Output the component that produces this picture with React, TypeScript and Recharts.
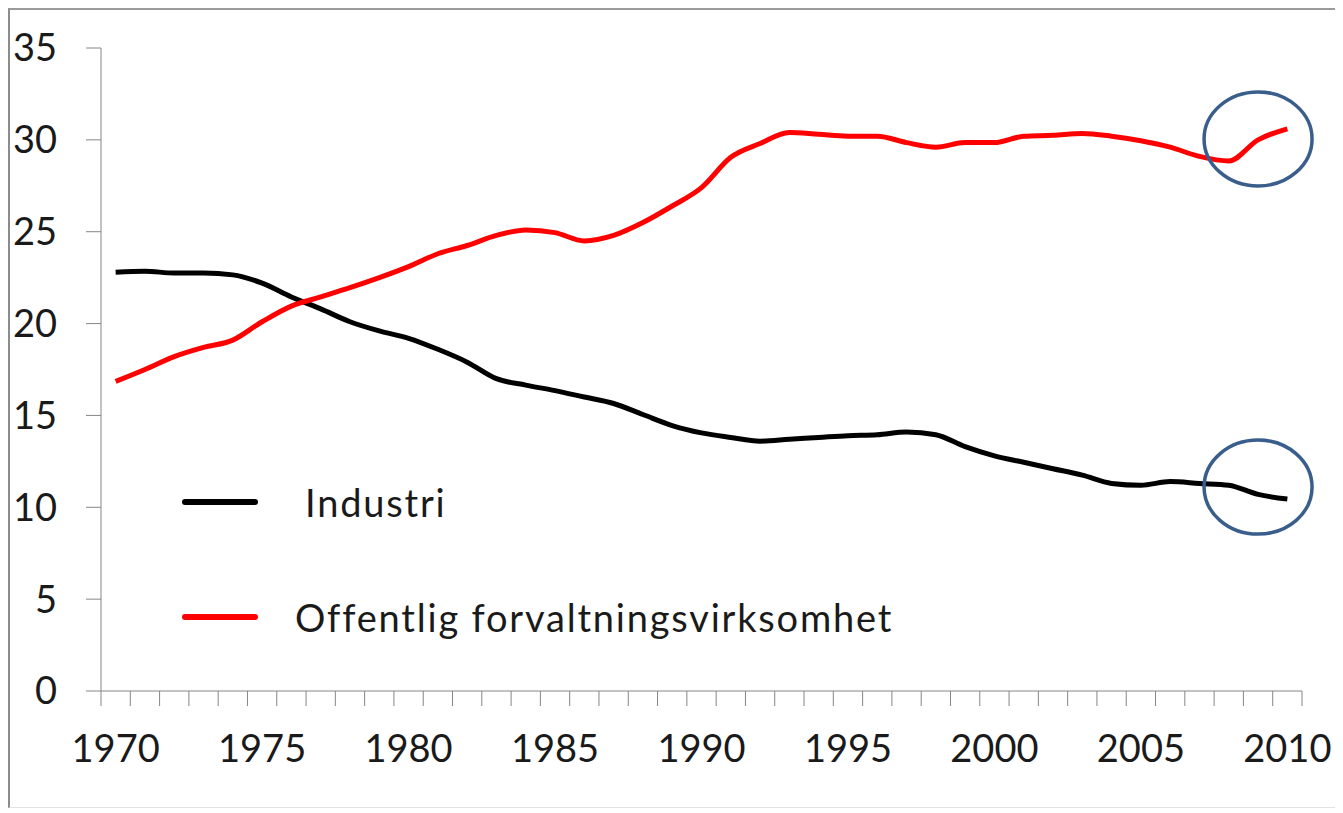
import { LineChart, Line, XAxis, YAxis, Legend, ReferenceDot } from 'recharts'

// Andel sysselsatte (%) per år
const years = [
  1970, 1971, 1972, 1973, 1974, 1975, 1976, 1977, 1978, 1979,
  1980, 1981, 1982, 1983, 1984, 1985, 1986, 1987, 1988, 1989,
  1990, 1991, 1992, 1993, 1994, 1995, 1996, 1997, 1998, 1999,
  2000, 2001, 2002, 2003, 2004, 2005, 2006, 2007, 2008, 2009, 2010,
]

const industri = [
  22.8, 22.85, 22.75, 22.75, 22.65, 22.2, 21.45, 20.8, 20.1, 19.6,
  19.2, 18.6, 17.9, 17.0, 16.65, 16.35, 16.0, 15.65, 15.05, 14.45,
  14.05, 13.8, 13.6, 13.7, 13.8, 13.9, 13.95, 14.1, 13.95, 13.3,
  12.8, 12.45, 12.1, 11.75, 11.3, 11.2, 11.4, 11.3, 11.2, 10.7, 10.45,
]

const offentlig = [
  16.85, 17.5, 18.2, 18.7, 19.1, 20.1, 20.95, 21.45, 21.95, 22.5,
  23.1, 23.8, 24.25, 24.8, 25.1, 24.95, 24.5, 24.8, 25.5, 26.4,
  27.4, 29.05, 29.8, 30.4, 30.3, 30.2, 30.2, 29.85, 29.6, 29.85,
  29.85, 30.2, 30.25, 30.35, 30.2, 29.95, 29.6, 29.1, 28.85, 30.0, 30.6,
]

const yTicks = [0, 5, 10, 15, 20, 25, 30, 35]
const labelYears = [1970, 1975, 1980, 1985, 1990, 1995, 2000, 2005, 2010]

// circled points (2009)
const marks = [
  { year: 2009, value: 30.05 },
  { year: 2009, value: 11.1 },
]

const data = years.map((year, i) => ({
  year,
  Industri: industri[i],
  'Offentlig forvaltningsvirksomhet': offentlig[i],
}))

const domain = [years[0] - 0.5, years[years.length - 1] + 0.5]

const font = 'Lato, "Open Sans", sans-serif'
const axisGray = '#868686'
const textColor = '#1a1a1a'

// Excel style: tick marks between the years, label under every 5th year
const YearTick = (props: any) => {
  const { x, y, payload, index, width } = props
  const half = (Number(width) || 1201) / years.length / 2
  const isLast = index === years.length - 1
  return (
    <g>
      <line x1={x - half} y1={y} x2={x - half} y2={y + 15} stroke={axisGray} strokeWidth={1} />
      {isLast && <line x1={x + half} y1={y} x2={x + half} y2={y + 15} stroke={axisGray} strokeWidth={1} />}
      {labelYears.includes(payload.value) && (
        <text
          x={x}
          y={y + 44}
          dy="0.71em"
          textAnchor="middle"
          fontSize={38}
          fontFamily={font}
          fill={textColor}
        >
          {payload.value}
        </text>
      )}
    </g>
  )
}

const renderLegend = (props: any) => {
  const items = props.payload || []
  return (
    <div style={{ fontFamily: font }}>
      {items.map((entry: any, i: number) => (
        <div
          key={entry.value}
          style={{ display: 'flex', alignItems: 'center', height: 40, marginBottom: i === 0 ? 75 : 0 }}
        >
          <span
            style={{ display: 'inline-block', width: 76, height: 6, borderRadius: 3, background: entry.color }}
          />
          <span
            style={{
              marginLeft: i === 0 ? 47 : 37,
              fontSize: 38,
              letterSpacing: 1.8,
              color: textColor,
              whiteSpace: 'nowrap',
            }}
          >
            {entry.value}
          </span>
        </div>
      ))}
    </div>
  )
}

const Ellipse = (props: any) => (
  <ellipse cx={props.cx} cy={props.cy} rx={54} ry={47} fill="none" stroke="#3a5e8c" strokeWidth={3.5} />
)

export default function App() {
  return (
    <div
      style={{
        position: 'relative',
        width: 1335,
        height: 800,
        boxSizing: 'border-box',
        borderLeft: '2px solid #8c8c8c',
        borderTop: '2px solid #9a9a9a',
        borderBottom: '1px solid #e2e2e2',
        background: '#fff',
      }}
    >
      <div style={{ position: 'absolute', left: -2, top: -2 }}>
        <LineChart width={1335} height={800} data={data} margin={{ top: 40, right: 41, left: 0, bottom: 0 }}>
          <XAxis
            dataKey="year"
            type="number"
            domain={domain}
            ticks={years}
            interval={0}
            tickLine={false}
            tickSize={0}
            tickMargin={0}
            height={117}
            stroke={axisGray}
            tick={<YearTick />}
          />
          <YAxis
            domain={[0, 35]}
            ticks={yTicks}
            interval={0}
            width={93}
            tickSize={15}
            tickMargin={29}
            stroke={axisGray}
            tick={{ fontSize: 38, fill: textColor, fontFamily: font }}
          />
          <Legend
            layout="vertical"
            align="center"
            verticalAlign="middle"
            wrapperStyle={{ left: 174, top: 474, width: 'auto' }}
            content={renderLegend}
          />
          <Line
            type="monotone"
            dataKey="Industri"
            stroke="#000000"
            strokeWidth={5}
            dot={false}
            isAnimationActive={false}
          />
          <Line
            type="monotone"
            dataKey="Offentlig forvaltningsvirksomhet"
            stroke="#ff0000"
            strokeWidth={5}
            dot={false}
            isAnimationActive={false}
          />
          {marks.map((m) => (
            <ReferenceDot key={m.value} x={m.year} y={m.value} shape={Ellipse} />
          ))}
        </LineChart>
      </div>
    </div>
  )
}
